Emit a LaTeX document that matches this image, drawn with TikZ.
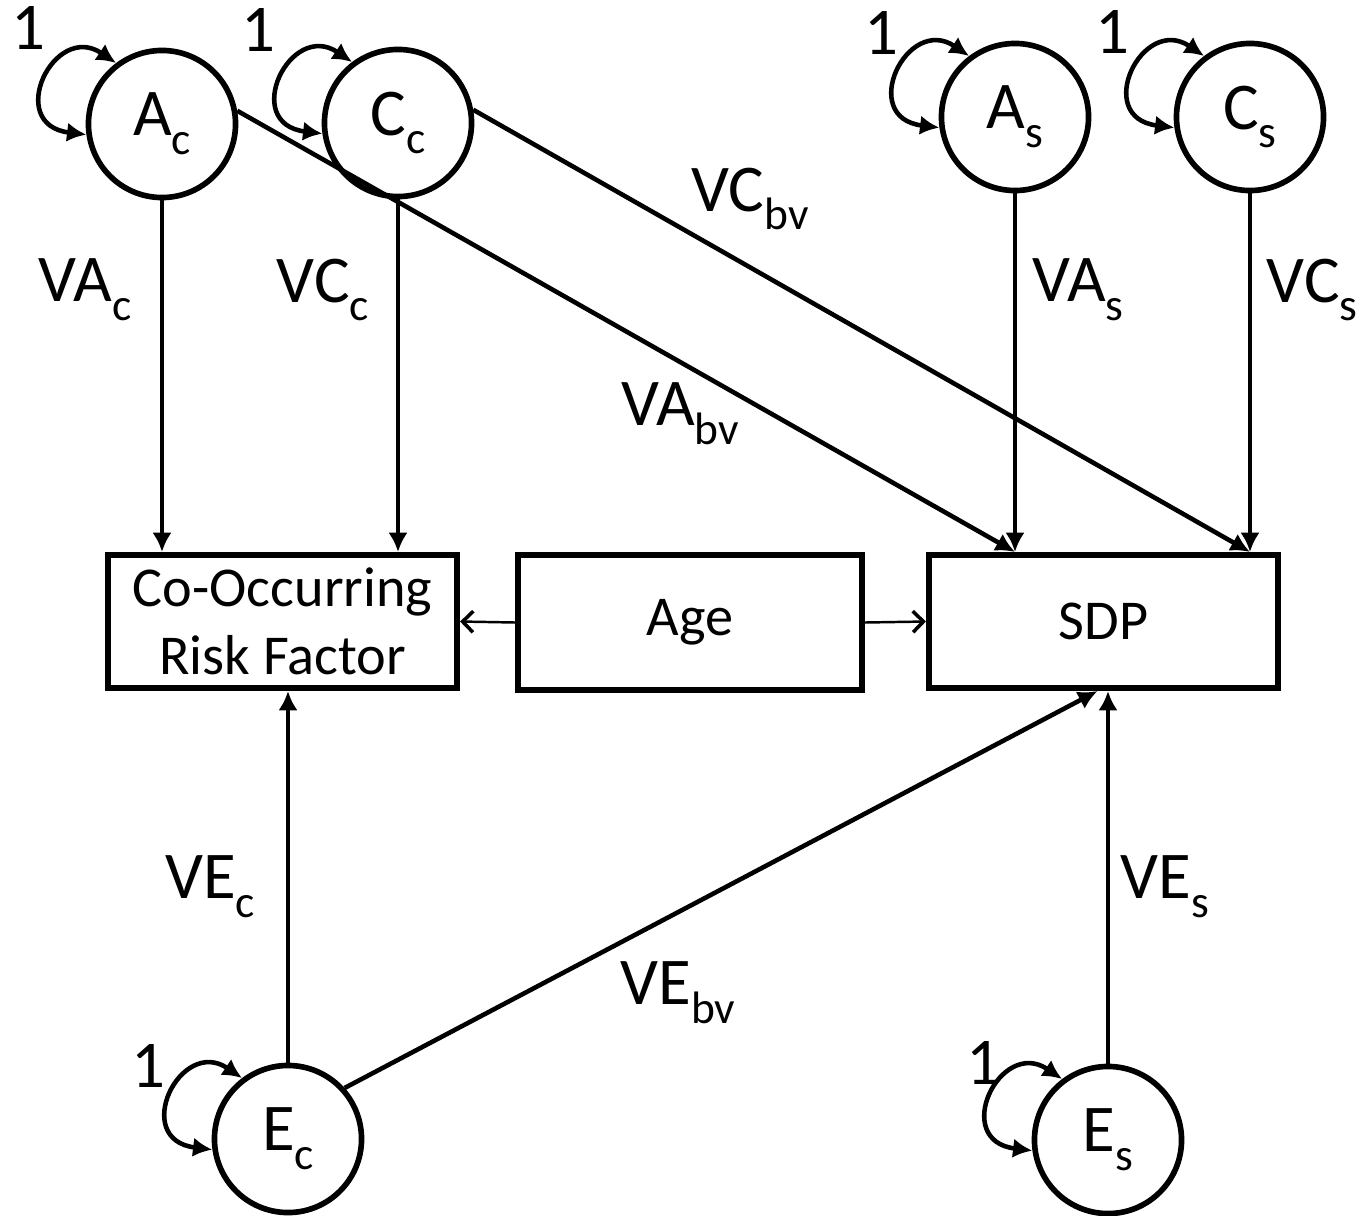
\documentclass[tikz,border=0pt]{standalone}
\usepackage{fontspec}
\setmainfont{Carlito}
\usetikzlibrary{arrows.meta,calc}
\newcommand{\lsub}[1]{\raisebox{-0.28em}{\scalebox{0.68}{#1}}}
\begin{document}
\begin{tikzpicture}[x=0.01cm,y=-0.01cm,
  latent/.style={circle,draw,line width=1.6pt,minimum size=1.47cm,inner sep=0pt,font=\fontsize{19}{22}\selectfont},
  obs/.style={rectangle,draw,line width=1.7pt,minimum width=3.49cm,minimum height=1.33cm,inner sep=0pt,font=\fontsize{16}{19.5}\selectfont,align=center},
  conn/.style={line width=1.3pt,-{Latex[length=5.5pt,width=5.5pt]}},
  thinarrow/.style={line width=0.7pt,-{Straight Barb[length=3pt,width=6pt,line width=1pt]}},
  loopa/.style={line width=1.3pt,{Latex[length=5.5pt,width=5.5pt]}-{Latex[length=5.5pt,width=5.5pt]}},
  lab/.style={inner sep=0pt,font=\fontsize{19}{22}\selectfont},
  one/.style={inner sep=0pt,font=\fontsize{19}{22}\selectfont}]
\useasboundingbox (0,0) rectangle (1370,1215);

% latent variables
\node[latent] (Ac) at (162,124) {A\lsub{c}};
\node[latent] (Cc) at (398,123) {C\lsub{c}};
\node[latent] (As) at (1015,117) {A\lsub{s}};
\node[latent] (Cs) at (1250,117) {C\lsub{s}};
\node[latent] (Ec) at (288,1139) {E\lsub{c}};
\node[latent] (Es) at (1108,1140) {E\lsub{s}};

% observed boxes
\node[obs] (CRF) at (282.5,621.5) {Co-Occurring\\Risk Factor};
\node[obs,minimum width=3.44cm,minimum height=1.35cm] (Age) at (690,622.5) {Age};
\node[obs] (SDP) at (1103.5,621.5) {SDP};

% variance loops
\foreach \n in {Ac,Cc,As,Cs,Ec,Es}{
  \draw[loopa] (\n.127) .. controls +(-62,-42) and +(-82,-10) .. (\n.188);
}
\node[one] (oAc) at (28,28) {1};
\node[one] (oCc) at (258,30) {1};
\node[one] (oAs) at (881,33) {1};
\node[one] (oCs) at (1112,32) {1};
\node[one] (oEc) at (148,1066) {1};
\node[one] (oEs) at (983,1063) {1};

% connectors
\coordinate (sdpA) at (As |- SDP.north);
\coordinate (sdpC) at (Cs |- SDP.north);
\coordinate (sdpE) at ($(SDP.south)+(-6,0)$);
\draw[conn] (Ac.south) -- (Ac |- CRF.north);
\draw[conn] (Cc.south) -- (Cc |- CRF.north);
\draw[conn] (As.south) -- (sdpA);
\draw[conn] (Cs.south) -- (sdpC);
\draw[conn] (Ac.10) -- (sdpA);
\draw[conn] (Cc.10) -- (sdpC);
\draw[thinarrow] (Age.west) -- (CRF.east);
\draw[thinarrow] (Age.east) -- (SDP.west);
\draw[conn] (Ec.north) -- (Ec |- CRF.south);
\draw[conn] (Ec.42) -- (sdpE);
\draw[conn] (Es.north) -- (Es |- SDP.south);

% path labels
\node[lab] (lVAc) at (85,290) {VA\lsub{c}};
\node[lab] (lVCc) at (323,290) {VC\lsub{c}};
\node[lab] (lVCbv) at (750,199) {VC\lsub{bv}};
\node[lab] (lVAbv) at (680,414) {VA\lsub{bv}};
\node[lab] (lVAs) at (1078,290) {VA\lsub{s}};
\node[lab] (lVCs) at (1312,290) {VC\lsub{s}};
\node[lab] (lVEc) at (210,887) {VE\lsub{c}};
\node[lab] (lVEbv) at (678,993) {VE\lsub{bv}};
\node[lab] (lVEs) at (1165,887) {VE\lsub{s}};
\end{tikzpicture}
\end{document}
